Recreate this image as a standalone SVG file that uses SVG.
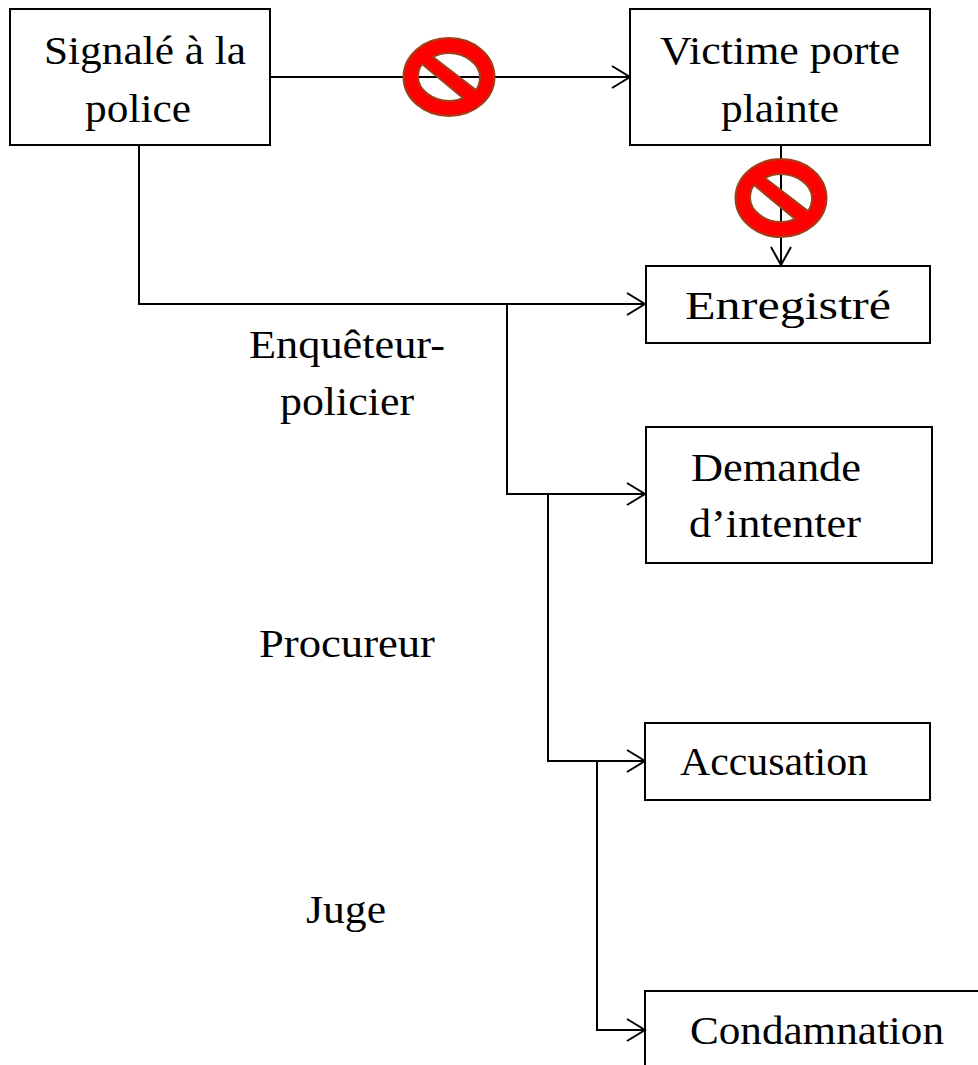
<svg xmlns="http://www.w3.org/2000/svg" width="978" height="1065" viewBox="0 0 978 1065">
<style>
text{font-family:"Liberation Serif","Times New Roman",serif;font-size:41px;fill:#000;text-anchor:middle}
.b{fill:#fff;stroke:#000;stroke-width:2}
.c{fill:none;stroke:#000;stroke-width:2}
.ar{fill:none;stroke:#000;stroke-width:2}
.ring{fill-rule:evenodd;fill:#f00;stroke:#a0401a;stroke-width:2}
</style>
<defs>
<path id="no" class="ring" d="M-45.5,0A45.5,39 0 1 1 45.5,0A45.5,39 0 1 1 -45.5,0ZM-16,-20C-11,-23 -6,-24 0,-24C16,-24 31,-13 31,0C31,5 30,9 27,13ZM-27,-13C-30,-9 -31,-5 -31,0C-31,13 -16,24 0,24C5,24 10,23 14,21Z"/>
</defs>
<g id="connectors">
<path class="c" d="M270,77H630M781,146V265M139,145V304H645M507,304V494H645M548,494V761H645M597,761V1030H645"/>
<path class="ar" d="M612,66L630,77L612,88M627,293L645,304L627,315M627,483L645,494L627,505M627,750L645,761L627,772M627,1019L645,1030L627,1041M771,247L781,265L791,247"/>
</g>
<g id="n1"><rect class="b" x="10" y="9" width="260" height="136"/><text x="145" y="64" textLength="202" lengthAdjust="spacingAndGlyphs">Signalé à la</text><text x="138" y="122" textLength="106" lengthAdjust="spacingAndGlyphs">police</text></g>
<g id="n2"><rect class="b" x="630" y="9" width="300" height="136"/><text x="780" y="64" textLength="240" lengthAdjust="spacingAndGlyphs">Victime porte</text><text x="780" y="122" textLength="118" lengthAdjust="spacingAndGlyphs">plainte</text></g>
<g id="n3"><rect class="b" x="646" y="266" width="284" height="77"/><text x="788" y="319" textLength="206" lengthAdjust="spacingAndGlyphs">Enregistré</text></g>
<g id="n4"><rect class="b" x="646" y="427" width="286" height="136"/><text x="776" y="481" textLength="170" lengthAdjust="spacingAndGlyphs">Demande</text><text x="775" y="537" textLength="172" lengthAdjust="spacingAndGlyphs">d’intenter</text></g>
<g id="n5"><rect class="b" x="645" y="723" width="285" height="77"/><text x="774" y="775" textLength="188" lengthAdjust="spacingAndGlyphs">Accusation</text></g>
<g id="n6"><path class="c" d="M645,1065V991H978"/><text x="817" y="1044" textLength="254" lengthAdjust="spacingAndGlyphs">Condamnation</text></g>
<g id="l1"><text x="347" y="358" textLength="196" lengthAdjust="spacingAndGlyphs">Enquêteur-</text><text x="347" y="415" textLength="134" lengthAdjust="spacingAndGlyphs">policier</text></g>
<g id="l2"><text x="347" y="657" textLength="176" lengthAdjust="spacingAndGlyphs">Procureur</text></g>
<g id="l3"><text x="346" y="923" textLength="80" lengthAdjust="spacingAndGlyphs">Juge</text></g>
<g id="s1"><use href="#no" x="449" y="77"/></g>
<g id="s2"><use href="#no" x="781" y="198"/></g>
</svg>
